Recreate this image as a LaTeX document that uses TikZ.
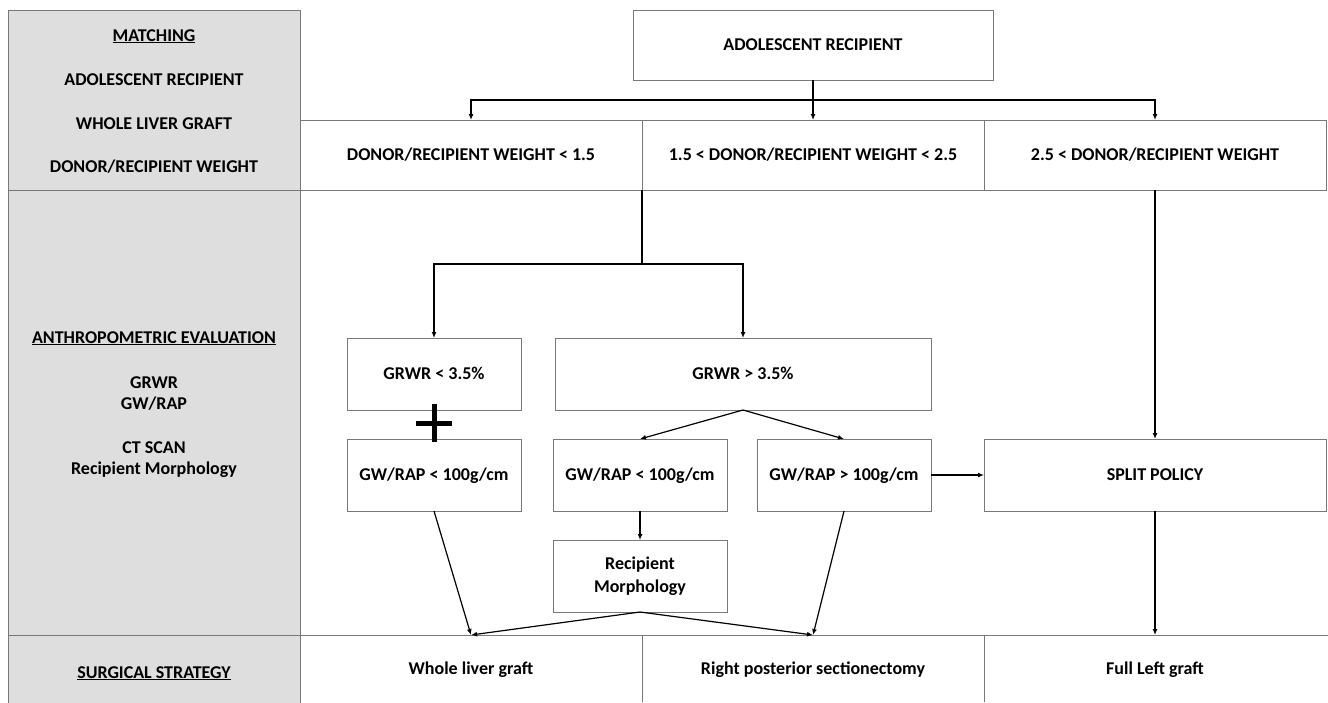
\documentclass[tikz,border=0pt]{standalone}
\usepackage{fontspec}
\setmainfont{Carlito}
\usetikzlibrary{arrows.meta}
\definecolor{greyfill}{RGB}{222,222,222}
\definecolor{boxline}{RGB}{120,120,120}
\newcommand\lblfont{\fontsize{18}{22}\selectfont\bfseries}
\begin{document}
\begin{tikzpicture}[x=1pt,y=-1pt,
  framed/.style={draw=boxline, line width=1pt, fill=white, inner sep=0pt, outer sep=0pt,
    font=\lblfont, align=center},
  cell/.style={framed, text height=11.6pt, text depth=0pt},
  greycell/.style={cell, fill=greyfill},
  plain/.style={inner sep=0pt, outer sep=0pt, font=\lblfont, align=center, text height=11.6pt, text depth=0pt},
  side/.style={inner sep=0pt, outer sep=0pt, font=\lblfont, anchor=base},
  small/.style={cell, minimum width=174pt, minimum height=72pt},
  rowbox/.style={cell, minimum width=342pt, minimum height=70pt},
  arr/.style={-{Latex[length=6pt,width=5pt]}, line width=1.2pt, black},
  conn/.style={line width=1.2pt, black},
  rule/.style={draw=boxline, line width=1pt}
]
\useasboundingbox (0,0) rectangle (1328,702);

% left grey column
\node[greycell, minimum width=292pt, minimum height=180pt] (g1) at (154,100) {};
\node[greycell, minimum width=292pt, minimum height=445pt] (g2) at (154,412.5) {};
\node[greycell, minimum width=292pt, minimum height=80pt] (g3) at (154,675) {};

\node[side] (m0) at (154,41) {\underline{MATCHING}};
\node[side] (m1) at (154,85) {ADOLESCENT RECIPIENT};
\node[side] (m2) at (154,129) {WHOLE LIVER GRAFT};
\node[side] (m3) at (154,172) {DONOR/RECIPIENT WEIGHT};
\node[side] (a0) at (154,343) {\underline{ANTHROPOMETRIC EVALUATION}};
\node[side] (a1) at (154,388) {GRWR};
\node[side] (a2) at (154,409) {GW/RAP};
\node[side] (a3) at (154,453) {CT SCAN};
\node[side] (a4) at (154,474) {Recipient Morphology};
\node[side] (s0) at (154,678) {\underline{SURGICAL STRATEGY}};

% top
\node[cell, minimum width=360pt, minimum height=70pt] (t) at (813,45) {ADOLESCENT RECIPIENT};

\node[rowbox] (r1) at (471,155) {DONOR/RECIPIENT WEIGHT < 1.5};
\node[rowbox] (r2) at (813,155) {1.5 < DONOR/RECIPIENT WEIGHT < 2.5};
\node[rowbox] (r3) at (1155,155) {2.5 < DONOR/RECIPIENT WEIGHT};

% middle boxes
\node[small] (n1) at (434,374) {GRWR < 3.5\%};
\node[cell, minimum width=376pt, minimum height=72pt] (n2) at (743,374) {GRWR > 3.5\%};
\node[small] (n3) at (434,475) {GW/RAP < 100g/cm};
\node[small] (n4) at (640,475) {GW/RAP < 100g/cm};
\node[small] (n5) at (844,475) {GW/RAP > 100g/cm};
\node[cell, minimum width=342pt, minimum height=72pt] (sp) at (1155,475) {SPLIT POLICY};
\node[framed, minimum width=174pt, minimum height=72pt, font=\fontsize{18}{23}\selectfont\bfseries] (rm) at (640,576) {Recipient\\Morphology};

% bottom row
\draw[rule] (300,635) -- (1328,635);
\draw[rule] (642,635) -- (642,702);
\draw[rule] (984,635) -- (984,702);
\node[plain, minimum width=342pt, minimum height=67pt] (b1) at (471,668.5) {Whole liver graft};
\node[plain, minimum width=342pt, minimum height=67pt] (b2) at (813,668.5) {Right posterior sectionectomy};
\node[plain, minimum width=342pt, minimum height=67pt] (b3) at (1155,668.5) {Full Left graft};

% plus sign
\draw[line width=5pt] (416,423) -- (452,423);
\draw[line width=5pt] (434,404) -- (434,442);

% connectors
\draw[conn] (t.south) -- ++(0,20) coordinate (j1);
\draw[arr] (j1) -| (r1.north);
\draw[arr] (j1) -- (r2.north);
\draw[arr] (j1) -| (r3.north);

\coordinate (k0) at (r1.south east);
\draw[conn] (k0) -- ++(0,74) coordinate (k1);
\draw[arr] (k1) -| (n1.north);
\draw[arr] (k1) -| (n2.north);

\draw[arr] (r3.south) -- (sp.north);
\draw[arr] (n2.south) -- (n4.north);
\draw[arr] (n2.south) -- (n5.north);
\draw[arr] (n5.east) -- (sp.west);
\draw[arr] (n4.south) -- (rm.north);
\draw[arr] (n3.south) -- (b1.north);
\draw[arr] (rm.south) -- (b1.north);
\draw[arr] (rm.south) -- (b2.north);
\draw[arr] (n5.south) -- (b2.north);
\draw[arr] (sp.south) -- (b3.north);
\end{tikzpicture}
\end{document}
